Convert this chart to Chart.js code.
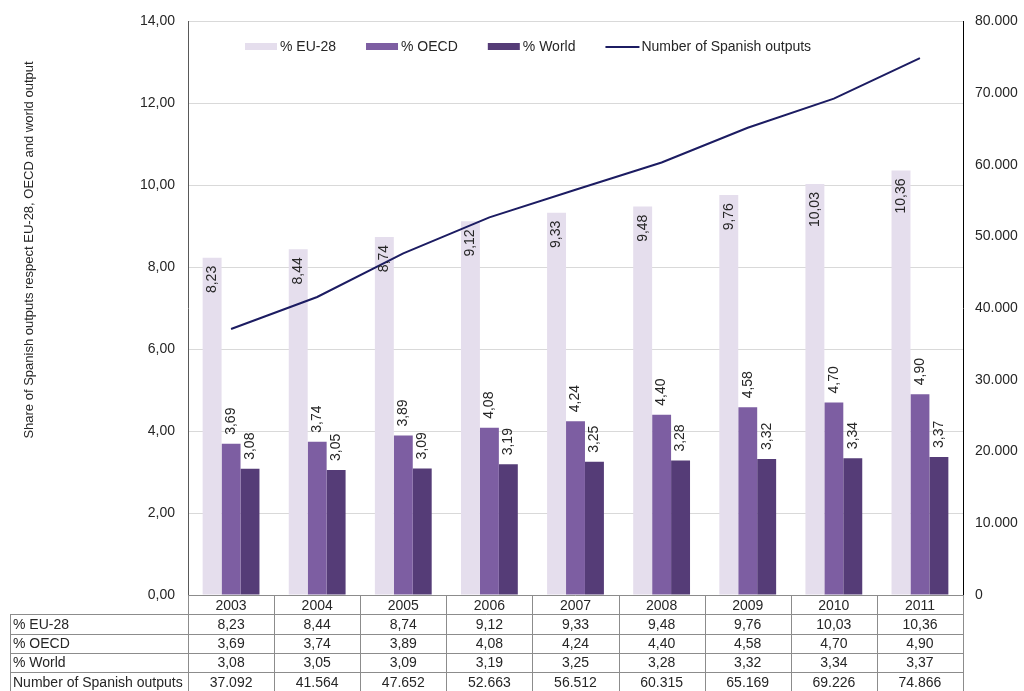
<!DOCTYPE html>
<html>
<head>
<meta charset="utf-8">
<script src="https://cdn.jsdelivr.net/npm/chart.js@4.4.1/dist/chart.umd.min.js"></script>
<style>
  html, body { margin: 0; padding: 0; background: #fff; }
  #wrap { width: 1024px; height: 691px; }
</style>
</head>
<body>
<div id="wrap"><canvas id="chart" width="1024" height="691"></canvas></div>
<script>
// chart data
const years = ['2003', '2004', '2005', '2006', '2007', '2008', '2009', '2010', '2011'];
const shareEU28 = [8.23, 8.44, 8.74, 9.12, 9.33, 9.48, 9.76, 10.03, 10.36];
const shareOECD = [3.69, 3.74, 3.89, 4.08, 4.24, 4.40, 4.58, 4.70, 4.90];
const shareWorld = [3.08, 3.05, 3.09, 3.19, 3.25, 3.28, 3.32, 3.34, 3.37];
const spanishOutputs = [37092, 41564, 47652, 52663, 56512, 60315, 65169, 69226, 74866];

const FONT = "'Liberation Sans', Arial, sans-serif";
const TEXT = '#262626';
const yTitle = 'Share of Spanish outputs respect EU-28, OECD and world output';

// 8.23 -> "8,23"
function fmtShare(v) {
    return Number(v).toFixed(2).replace('.', ',');
}

// 37092 -> "37.092"
function fmtThousands(v) {
    return String(Math.round(v)).replace(/\B(?=(\d{3})+(?!\d))/g, '.');
}

// value labels, rotated, on each bar
const barLabels = {
    id: 'barLabels',
    afterDatasetsDraw(chart) {
        const ctx = chart.ctx;
        ctx.save();
        ctx.font = '14px ' + FONT;
        ctx.fillStyle = TEXT;
        ctx.textBaseline = 'middle';
        chart.data.datasets.forEach((ds, i) => {
            if (ds.type === 'line') return;
            const meta = chart.getDatasetMeta(i);
            meta.data.forEach((bar, j) => {
                const txt = fmtShare(ds.data[j]);
                ctx.save();
                ctx.translate(bar.x, bar.y);
                ctx.rotate(-Math.PI / 2);
                if (ds.labelInside) {
                    ctx.textAlign = 'right';
                    ctx.fillText(txt, -8, 0);
                } else {
                    ctx.textAlign = 'left';
                    ctx.fillText(txt, 9, 0);
                }
                ctx.restore();
            });
        });
        ctx.restore();
    }
};

// legend drawn inside the plot area
const insideLegend = {
    id: 'insideLegend',
    afterDraw(chart) {
        const ctx = chart.ctx;
        ctx.save();
        ctx.font = '14px ' + FONT;
        ctx.textBaseline = 'middle';
        ctx.textAlign = 'left';
        const y = 47;
        let x = 245;
        chart.data.datasets.forEach(ds => {
            if (ds.type === 'line') {
                ctx.strokeStyle = ds.borderColor;
                ctx.lineWidth = 2;
                ctx.beginPath();
                ctx.moveTo(x, y);
                ctx.lineTo(x + 34, y);
                ctx.stroke();
                x += 36;
            } else {
                ctx.fillStyle = ds.backgroundColor;
                ctx.fillRect(x, y - 4, 32, 7);
                x += 35;
            }
            ctx.fillStyle = TEXT;
            ctx.fillText(ds.label, x, y);
            x += ctx.measureText(ds.label).width + 30;
        });
        ctx.restore();
    }
};

// data table under the plot
const dataTable = {
    id: 'dataTable',
    afterDraw(chart) {
        const { ctx, chartArea } = chart;
        const xs = chart.scales.x;
        const rowH = 19.3;
        const top = chartArea.bottom;
        const left = 10;
        const right = chartArea.right;
        const colW = (chartArea.right - chartArea.left) / years.length;
        const rows = chart.data.datasets.map(ds => [
            ds.label,
            ds.data.map(v => ds.type === 'line' ? fmtThousands(v) : fmtShare(v))
        ]);
        const bottom = top + rowH * (rows.length + 1);

        ctx.save();
        ctx.strokeStyle = '#8c8c8c';
        ctx.lineWidth = 1;
        ctx.beginPath();
        // header row top
        ctx.moveTo(chartArea.left, top + 0.5);
        ctx.lineTo(right, top + 0.5);
        // row lines
        for (let r = 1; r <= rows.length + 1; r++) {
            const yy = Math.round(top + r * rowH) + 0.5;
            ctx.moveTo(left, yy);
            ctx.lineTo(right, yy);
        }
        // column lines
        for (let c = 0; c <= years.length; c++) {
            const xx = Math.round(chartArea.left + c * colW) + 0.5;
            ctx.moveTo(xx, top);
            ctx.lineTo(xx, bottom);
        }
        ctx.moveTo(left + 0.5, top + rowH);
        ctx.lineTo(left + 0.5, bottom);
        ctx.stroke();

        ctx.font = '14px ' + FONT;
        ctx.fillStyle = TEXT;
        ctx.textBaseline = 'middle';
        ctx.textAlign = 'center';
        years.forEach((yr, i) => {
            ctx.fillText(yr, xs.getPixelForValue(i), top + rowH / 2 + 1);
        });
        rows.forEach((row, r) => {
            const cy = top + rowH * (r + 1) + rowH / 2 + 1;
            ctx.textAlign = 'left';
            ctx.fillText(row[0], left + 3, cy);
            ctx.textAlign = 'center';
            row[1].forEach((txt, i) => {
                ctx.fillText(txt, xs.getPixelForValue(i), cy);
            });
        });
        ctx.restore();
    }
};

// left axis title
const sideTitle = {
    id: 'sideTitle',
    afterDraw(chart) {
        const ctx = chart.ctx;
        ctx.save();
        ctx.font = '13px ' + FONT;
        ctx.fillStyle = TEXT;
        ctx.textAlign = 'center';
        ctx.textBaseline = 'middle';
        ctx.translate(29, 250);
        ctx.rotate(-Math.PI / 2);
        ctx.fillText(yTitle, 0, 0);
        ctx.restore();
    }
};

Chart.defaults.font.family = FONT;
Chart.defaults.color = TEXT;

const ctx = document.getElementById('chart').getContext('2d');
new Chart(ctx, {
    data: {
        labels: years,
        datasets: [
            {
                type: 'bar', label: '% EU-28', data: shareEU28, yAxisID: 'y',
                backgroundColor: '#e5deed', labelInside: true, order: 1
            },
            {
                type: 'bar', label: '% OECD', data: shareOECD, yAxisID: 'y',
                backgroundColor: '#7d5ea2', order: 1
            },
            {
                type: 'bar', label: '% World', data: shareWorld, yAxisID: 'y',
                backgroundColor: '#553c77', order: 1
            },
            {
                type: 'line', label: 'Number of Spanish outputs', data: spanishOutputs, yAxisID: 'y2',
                borderColor: '#1c1c62', borderWidth: 2, pointRadius: 0, tension: 0, fill: false, order: 0
            }
        ]
    },
    options: {
        responsive: false,
        animation: false,
        devicePixelRatio: 1,
        layout: { padding: { top: 18, bottom: 96, left: 10, right: 0 } },
        datasets: {
            bar: { categoryPercentage: 0.66, barPercentage: 1.0 }
        },
        plugins: {
            legend: { display: false },
            tooltip: { enabled: false }
        },
        scales: {
            x: { display: false, offset: true },
            y: {
                position: 'left', min: 0, max: 14,
                ticks: { stepSize: 2, padding: 13, color: TEXT, font: { size: 14 }, callback: v => fmtShare(v) },
                grid: { color: '#d9d9d9', drawTicks: false },
                border: { color: '#595959', width: 1 },
                afterFit(s) { s.width = 178; }
            },
            y2: {
                position: 'right', min: 0, max: 80000,
                ticks: { stepSize: 10000, padding: 12, color: TEXT, font: { size: 14 }, callback: v => fmtThousands(v) },
                grid: { display: false, drawTicks: false },
                border: { color: '#000', width: 1 },
                afterFit(s) { s.width = 61; }
            }
        }
    },
    plugins: [barLabels, insideLegend, dataTable, sideTitle]
});
</script>
</body>
</html>
